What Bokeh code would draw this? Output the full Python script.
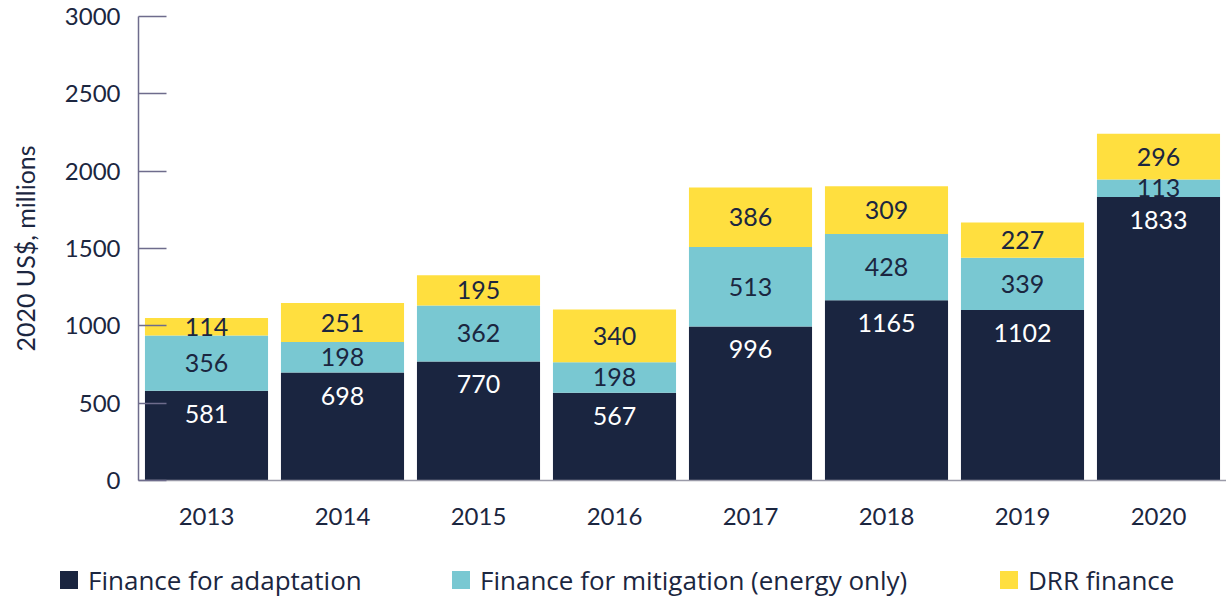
from bokeh.plotting import figure
from bokeh.layouts import column
from bokeh.models import ColumnDataSource, FactorRange, FixedTicker, Div
from bokeh.core.properties import value
from bokeh.embed import file_html
from bokeh.resources import INLINE

years = ["2013", "2014", "2015", "2016", "2017", "2018", "2019", "2020"]
adaptation = [581, 698, 770, 567, 996, 1165, 1102, 1833]
mitigation = [356, 198, 362, 198, 513, 428, 339, 113]
drr = [114, 251, 195, 340, 386, 309, 227, 296]
series_names = ["Finance for adaptation", "Finance for mitigation (energy only)", "DRR finance"]
colors = ["#1a2540", "#79c8d2", "#ffdf3f"]
y_ticks = [0, 500, 1000, 1500, 2000, 2500, 3000]

FONT = "Lato"
LFONT = "Open Sans"
TXT = "#1b2640"

src = ColumnDataSource(dict(
    years=years, adaptation=adaptation, mitigation=mitigation, drr=drr,
    a_lab=[str(v) for v in adaptation],
    m_lab=[str(v) for v in mitigation],
    d_lab=[str(v) for v in drr],
    m_y=[a + m / 2 for a, m in zip(adaptation, mitigation)],
    d_y=[a + m + d / 2 for a, m, d in zip(adaptation, mitigation, drr)],
))

p = figure(width=1226, height=540, x_range=FactorRange(*years, range_padding=0),
           y_range=(0, 3000), output_backend="svg", toolbar_location=None,
           min_border_left=138, min_border_right=0, min_border_top=16, min_border_bottom=60)
p.outline_line_color = None
p.grid.visible = False

rs = p.vbar_stack(["adaptation", "mitigation", "drr"], x="years", width=0.905,
                  color=colors, line_color=None, source=src)

p.text(x="years", y="adaptation", text="a_lab", source=src, y_offset=23,
       text_align="center", text_baseline="middle", text_color="white",
       text_font=value(FONT), text_font_size="25px")
p.text(x="years", y="m_y", text="m_lab", source=src,
       text_align="center", text_baseline="middle", text_color=TXT,
       text_font=value(FONT), text_font_size="25px")
p.text(x="years", y="d_y", text="d_lab", source=src,
       text_align="center", text_baseline="middle", text_color=TXT,
       text_font=value(FONT), text_font_size="25px")

ya = p.yaxis[0]
ya.ticker = FixedTicker(ticks=y_ticks)
ya.axis_line_color = "#6e6c8c"
ya.axis_line_width = 1.5
ya.major_tick_line_color = "#6e6c8c"
ya.major_tick_line_width = 1.5
ya.major_tick_in = 28
ya.major_tick_out = 0
ya.minor_tick_line_color = None
ya.major_label_standoff = 18
ya.major_label_text_font = FONT
ya.major_label_text_font_size = "24px"
ya.major_label_text_color = TXT
ya.axis_label = "2020 US$, millions"
ya.axis_label_text_font = FONT
ya.axis_label_text_font_size = "25px"
ya.axis_label_text_font_style = "normal"
ya.axis_label_text_color = TXT
ya.axis_label_standoff = 22

xa = p.xaxis[0]
xa.axis_line_color = "#9a9aa8"
xa.axis_line_width = 1.5
xa.major_tick_line_color = None
xa.minor_tick_line_color = None
xa.major_label_standoff = 21
xa.major_label_text_font = FONT
xa.major_label_text_font_size = "24px"
xa.major_label_text_color = TXT

# legend row below the chart
legend_left = [60, 452, 1000]
items_html = "".join(
    f'<div style="position:absolute;left:{x}px;top:27px;height:26px;display:flex;align-items:center;white-space:nowrap;">'
    f'<span style="display:inline-block;width:18px;height:18px;background:{c};margin-right:10px;"></span>'
    f'<span style="font-family:\'{LFONT}\';font-size:26px;line-height:26px;color:{TXT};">{n}</span></div>'
    for x, c, n in zip(legend_left, colors, series_names)
)
legend_div = Div(text=f'<div style="position:relative;width:1226px;height:55px;">{items_html}</div>',
                 width=1226, height=55, margin=0)

layout = column(p, legend_div, spacing=0)
open("out.html", "w").write(file_html(layout, INLINE))
